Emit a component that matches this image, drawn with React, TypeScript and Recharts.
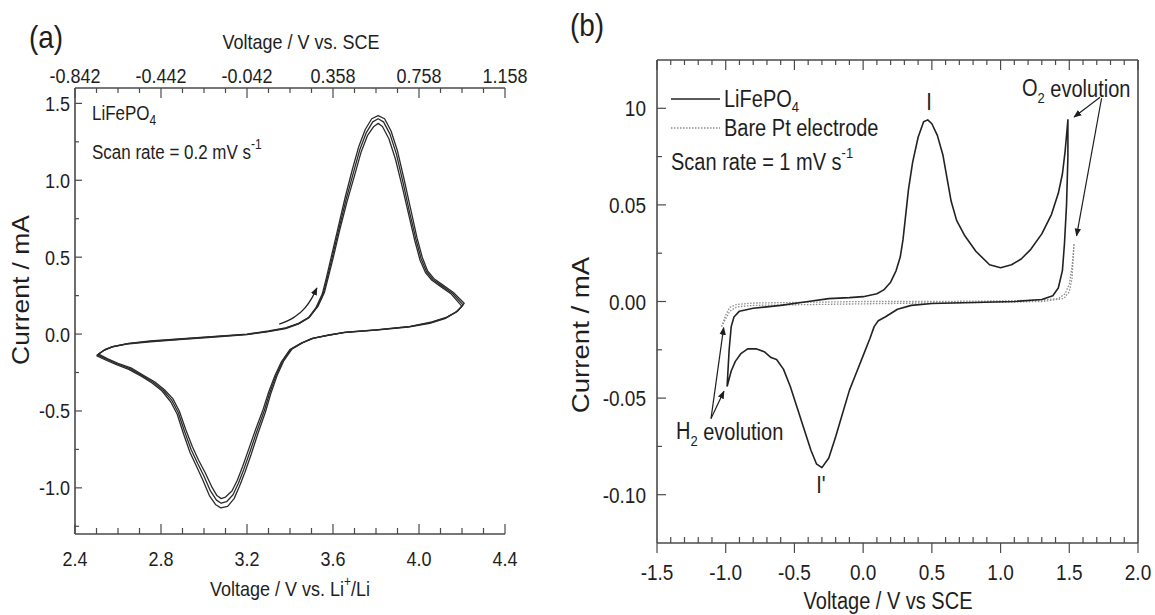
import React from 'react'
import { LineChart, Line, XAxis, YAxis, ReferenceLine } from 'recharts'

const FONT = '"Liberation Sans", Arial, Helvetica, sans-serif'
const INK = '#1e1e1e'
const AXIS = '#4a4a4a'
const SY = 1.15

type Pt = [number, number]

// ---- panel (a): LiFePO4, 0.2 mV/s, three cycles (V vs Li+/Li, mA)
const cycle1: Pt[] = [
  [2.51, -0.13], [2.54, -0.1], [2.58, -0.08], [2.65, -0.06], [2.75, -0.045], [2.9, -0.03], [3.05, -0.015],
  [3.2, 0.0], [3.3, 0.02], [3.38, 0.04], [3.44, 0.07], [3.49, 0.11], [3.53, 0.18], [3.56, 0.27], [3.58, 0.38],
  [3.6, 0.49], [3.63, 0.67], [3.665, 0.86], [3.7, 1.03], [3.73, 1.18], [3.76, 1.29], [3.79, 1.35], [3.81, 1.37],
  [3.83, 1.35], [3.86, 1.27], [3.89, 1.14], [3.92, 0.97], [3.95, 0.79], [3.98, 0.61], [4.005, 0.48], [4.03, 0.4],
  [4.06, 0.35], [4.1, 0.31], [4.15, 0.26], [4.2, 0.18],
  [4.17, 0.14], [4.12, 0.1], [4.05, 0.07], [3.95, 0.045], [3.8, 0.025], [3.65, 0.01], [3.57, -0.01], [3.5, -0.03],
  [3.45, -0.06], [3.4, -0.1], [3.36, -0.18], [3.33, -0.27], [3.3, -0.38], [3.275, -0.49], [3.24, -0.62],
  [3.21, -0.74], [3.18, -0.86], [3.155, -0.95], [3.13, -1.02], [3.1, -1.06], [3.08, -1.07], [3.06, -1.05],
  [3.035, -0.99], [3.005, -0.9], [2.975, -0.82], [2.945, -0.73], [2.915, -0.62], [2.885, -0.5], [2.855, -0.42],
  [2.815, -0.36], [2.77, -0.31], [2.72, -0.27], [2.66, -0.22], [2.6, -0.19], [2.55, -0.16], [2.51, -0.13],
]
const cycle2: Pt[] = [
  [2.505, -0.135], [2.535, -0.105], [2.575, -0.082], [2.645, -0.062], [2.75, -0.047], [2.9, -0.032], [3.05, -0.017],
  [3.2, -0.002], [3.3, 0.018], [3.38, 0.038], [3.44, 0.068], [3.49, 0.108], [3.525, 0.175], [3.555, 0.265],
  [3.575, 0.375], [3.595, 0.49], [3.625, 0.67], [3.66, 0.87], [3.695, 1.05], [3.725, 1.2], [3.755, 1.31],
  [3.785, 1.38], [3.81, 1.4], [3.835, 1.38], [3.865, 1.3], [3.895, 1.17], [3.925, 0.99], [3.955, 0.8],
  [3.985, 0.62], [4.01, 0.49], [4.035, 0.405], [4.065, 0.355], [4.105, 0.315], [4.155, 0.265], [4.205, 0.19],
  [4.175, 0.145], [4.125, 0.105], [4.055, 0.075], [3.955, 0.048], [3.805, 0.027], [3.655, 0.011], [3.575, -0.008],
  [3.505, -0.028], [3.455, -0.058], [3.405, -0.098], [3.365, -0.178], [3.335, -0.27], [3.305, -0.385], [3.28, -0.5],
  [3.245, -0.635], [3.215, -0.76], [3.185, -0.88], [3.16, -0.97], [3.135, -1.045], [3.105, -1.09], [3.08, -1.1],
  [3.058, -1.08], [3.03, -1.02], [3.0, -0.925], [2.97, -0.84], [2.94, -0.75], [2.91, -0.635], [2.88, -0.51],
  [2.85, -0.43], [2.81, -0.365], [2.765, -0.315], [2.715, -0.272], [2.655, -0.225], [2.595, -0.193],
  [2.545, -0.163], [2.505, -0.135],
]
const cycle3: Pt[] = [
  [2.5, -0.14], [2.53, -0.11], [2.57, -0.085], [2.64, -0.065], [2.75, -0.05], [2.9, -0.034], [3.05, -0.019],
  [3.2, -0.004], [3.3, 0.016], [3.38, 0.036], [3.44, 0.066], [3.485, 0.105], [3.52, 0.17], [3.55, 0.26],
  [3.57, 0.37], [3.59, 0.49], [3.62, 0.67], [3.655, 0.88], [3.69, 1.07], [3.72, 1.22], [3.75, 1.33], [3.78, 1.4],
  [3.81, 1.42], [3.84, 1.4], [3.87, 1.32], [3.9, 1.19], [3.93, 1.01], [3.96, 0.82], [3.99, 0.63], [4.015, 0.5],
  [4.04, 0.41], [4.07, 0.36], [4.11, 0.32], [4.16, 0.27], [4.21, 0.2],
  [4.18, 0.15], [4.13, 0.11], [4.06, 0.08], [3.96, 0.05], [3.81, 0.029], [3.66, 0.012], [3.58, -0.006],
  [3.51, -0.026], [3.46, -0.056], [3.41, -0.096], [3.37, -0.176], [3.34, -0.27], [3.31, -0.39], [3.285, -0.51],
  [3.25, -0.65], [3.22, -0.78], [3.19, -0.9], [3.165, -0.99], [3.14, -1.07], [3.11, -1.12], [3.078, -1.13],
  [3.055, -1.11], [3.025, -1.05], [2.995, -0.95], [2.965, -0.86], [2.935, -0.77], [2.905, -0.65], [2.875, -0.52],
  [2.845, -0.44], [2.805, -0.37], [2.76, -0.32], [2.71, -0.275], [2.65, -0.23], [2.59, -0.197], [2.54, -0.167],
  [2.5, -0.14],
]
const scanArrowA: Pt[] = [[3.35, 0.065], [3.42, 0.11], [3.47, 0.17], [3.5, 0.23], [3.525, 0.3]]

const xMajorA = [2.4, 2.8, 3.2, 3.6, 4.0, 4.4]
const topMajorA = [-0.842, -0.442, -0.042, 0.358, 0.758, 1.158]
const yMajorA = [-1.0, -0.5, 0.0, 0.5, 1.0, 1.5]

// ---- panel (b): 1 mV/s, V vs SCE, mA
const lfpB: Pt[] = [
  [-0.99, -0.044], [-0.975, -0.025], [-0.96, -0.013], [-0.94, -0.008], [-0.9, -0.005], [-0.8, -0.0035],
  [-0.6, -0.002], [-0.4, 0.0], [-0.25, 0.0015], [-0.1, 0.002], [0.0, 0.0025], [0.1, 0.004], [0.15, 0.006],
  [0.2, 0.01], [0.24, 0.016], [0.27, 0.023], [0.29, 0.032], [0.31, 0.045], [0.33, 0.058], [0.36, 0.072],
  [0.4, 0.085], [0.44, 0.093], [0.47, 0.094], [0.5, 0.092], [0.54, 0.086], [0.58, 0.076], [0.61, 0.064],
  [0.64, 0.052], [0.68, 0.042], [0.74, 0.034], [0.82, 0.026], [0.92, 0.019], [1.0, 0.0175], [1.08, 0.019],
  [1.15, 0.022], [1.22, 0.027], [1.3, 0.035], [1.37, 0.045], [1.42, 0.056], [1.45, 0.066], [1.47, 0.078],
  [1.49, 0.094],
  [1.49, 0.075], [1.48, 0.05], [1.465, 0.03], [1.45, 0.016], [1.42, 0.007], [1.38, 0.003], [1.3, 0.001],
  [1.1, 0.0], [0.8, -0.0005], [0.5, -0.001], [0.35, -0.002], [0.25, -0.004], [0.16, -0.008], [0.11, -0.01],
  [0.08, -0.013], [0.05, -0.019], [0.0, -0.028], [-0.05, -0.037], [-0.1, -0.046], [-0.15, -0.058],
  [-0.2, -0.07], [-0.25, -0.081], [-0.3, -0.086], [-0.34, -0.084], [-0.38, -0.077], [-0.43, -0.066],
  [-0.48, -0.055], [-0.53, -0.044], [-0.58, -0.035], [-0.63, -0.03], [-0.67, -0.029], [-0.72, -0.026],
  [-0.78, -0.0245], [-0.84, -0.0245], [-0.89, -0.027], [-0.93, -0.031], [-0.96, -0.036], [-0.99, -0.044],
]
const ptB: Pt[] = [
  [-1.03, -0.013], [-1.0, -0.007], [-0.97, -0.003], [-0.92, -0.0015], [-0.8, -0.0008], [-0.4, -0.0004],
  [0.0, 0.0], [0.5, 0.0], [1.0, 0.0003], [1.3, 0.0008], [1.42, 0.0015], [1.47, 0.004], [1.5, 0.009],
  [1.52, 0.018], [1.535, 0.03],
  [1.52, 0.012], [1.5, 0.005], [1.46, 0.0015], [1.3, 0.0], [1.0, -0.0004], [0.5, -0.0008], [0.0, -0.0012],
  [-0.4, -0.0016], [-0.8, -0.002], [-0.92, -0.0028], [-0.97, -0.005], [-1.0, -0.009], [-1.03, -0.013],
]
const h2ArrowUp: Pt[] = [[-1.107, -0.0606], [-1.015, -0.0135]]
const h2ArrowDown: Pt[] = [[-1.107, -0.0606], [-1.013, -0.0465]]
const o2ArrowVertex: Pt[] = [[1.724, 0.1057], [1.535, 0.0955]]
const o2ArrowPt: Pt[] = [[1.735, 0.1052], [1.553, 0.034]]

const xMajorB = [-1.5, -1.0, -0.5, 0.0, 0.5, 1.0, 1.5, 2.0]
const yMajorB = [-0.1, -0.05, 0.0, 0.05, 0.1]
const yLabelsB = ['-0.10', '-0.05', '0.00', '0.05', '10']

const rows = (pts: Pt[]) => pts.map(([v, i]) => ({ v, i }))
const range = (a: number, b: number, s: number) =>
  Array.from({ length: Math.round((b - a) / s) + 1 }, (_, k) => +(a + k * s).toFixed(4))

function T({ x, y, size, anchor = 'start', rotate = 0, children }: any) {
  return (
    <text
      transform={`translate(${x} ${y}) scale(1 ${SY}) rotate(${rotate})`}
      fontSize={size}
      textAnchor={anchor}
      dominantBaseline="central"
      fill={INK}
      fontFamily={FONT}
    >
      {children}
    </text>
  )
}

type TickSpec = {
  side: 'bottom' | 'top' | 'left'
  majors: number[]
  majorIn: number
  majorOut: number
  minorIn: number
  gap: number
  size: number
  label?: (v: number, k: number) => string
}

function makeTick(spec: TickSpec) {
  return (props: any) => {
    const { x, y, payload } = props
    const v = payload.value
    const k = spec.majors.findIndex((m) => Math.abs(m - v) < 1e-6)
    const major = k >= 0
    const inn = major ? spec.majorIn : spec.minorIn
    const out = major ? spec.majorOut : 0
    let ln = null
    let txt = null
    const lbl = major && spec.label ? spec.label(v, k) : null
    if (spec.side === 'bottom') {
      ln = <line x1={x} x2={x} y1={y + out} y2={y - inn} stroke={AXIS} strokeWidth={1.2} />
      if (lbl) txt = <T x={x} y={y + spec.gap} size={spec.size} anchor="middle">{lbl}</T>
    } else if (spec.side === 'top') {
      ln = <line x1={x} x2={x} y1={y - out} y2={y + inn} stroke={AXIS} strokeWidth={1.2} />
      if (lbl) txt = <T x={x} y={y - spec.gap} size={spec.size} anchor="middle">{lbl}</T>
    } else {
      ln = <line x1={x - out} x2={x + inn} y1={y} y2={y} stroke={AXIS} strokeWidth={1.2} />
      if (lbl) txt = <T x={x - spec.gap} y={y} size={spec.size} anchor="end">{lbl}</T>
    }
    return (
      <g>
        {ln}
        {txt}
      </g>
    )
  }
}

// axis bands are 1px thick (a 0px axis is not drawn at all)
const axisCommon = {
  type: 'number' as const,
  allowDataOverflow: true,
  interval: 0 as const,
  tickSize: 0,
  tickMargin: 0,
  tickLine: false,
  axisLine: { stroke: AXIS, strokeWidth: 1.6 },
}

function Head({ id }: { id: string }) {
  return (
    <marker id={id} viewBox="0 0 10 10" refX="9" refY="5" markerWidth="8" markerHeight="8" orient="auto" markerUnits="userSpaceOnUse">
      <path d="M0,1 L10,5 L0,9 z" fill={INK} />
    </marker>
  )
}

function PanelA() {
  return (
    <LineChart width={560} height={615} margin={{ top: 87, right: 55, bottom: 80, left: 74 }}>
      <defs>
        <Head id="headA" />
      </defs>
      <XAxis
        {...axisCommon}
        xAxisId="bottom"
        dataKey="v"
        domain={[2.4, 4.4]}
        ticks={range(2.4, 4.4, 0.1)}
        height={1}
        tick={makeTick({ side: 'bottom', majors: xMajorA, majorIn: 10, majorOut: 0, minorIn: 6, gap: 25, size: 18, label: (v) => v.toFixed(1) })}
      />
      <XAxis
        {...axisCommon}
        xAxisId="top"
        orientation="top"
        dataKey="v"
        domain={[-0.842, 1.158]}
        ticks={range(-0.842, 1.158, 0.1)}
        height={1}
        tick={makeTick({ side: 'top', majors: topMajorA, majorIn: 10, majorOut: 0, minorIn: 5, gap: 12, size: 18, label: (v) => v.toFixed(3) })}
      />
      <YAxis
        {...axisCommon}
        dataKey="i"
        domain={[-1.3, 1.6]}
        ticks={range(-1.25, 1.5, 0.25)}
        width={1}
        tick={makeTick({ side: 'left', majors: yMajorA, majorIn: 7, majorOut: 0, minorIn: 4, gap: 5, size: 18, label: (v) => v.toFixed(1) })}
      />
      <Line xAxisId="top" data={rows([[-0.842, 0], [1.158, 0]])} dataKey="i" stroke="none" dot={false} isAnimationActive={false} />
      {[cycle1, cycle2, cycle3].map((c, k) => (
        <Line
          key={k}
          xAxisId="bottom"
          data={rows(c)}
          dataKey="i"
          type="linear"
          stroke="#2b2b2b"
          strokeWidth={1.3}
          strokeLinejoin="round"
          dot={false}
          isAnimationActive={false}
        />
      ))}
      <Line
        xAxisId="bottom"
        data={rows(scanArrowA)}
        dataKey="i"
        type="monotone"
        stroke={INK}
        strokeWidth={1.3}
        dot={false}
        markerEnd="url(#headA)"
        isAnimationActive={false}
      />
    </LineChart>
  )
}

function PanelB() {
  const arrows = [h2ArrowUp, h2ArrowDown, o2ArrowVertex, o2ArrowPt]
  return (
    <LineChart width={595} height={615} margin={{ top: 59, right: 17, bottom: 71, left: 96 }}>
      <defs>
        <Head id="headB" />
      </defs>
      <XAxis
        {...axisCommon}
        xAxisId="bottom"
        dataKey="v"
        domain={[-1.5, 2.0]}
        ticks={range(-1.5, 2.0, 0.1)}
        height={1}
        tick={makeTick({ side: 'bottom', majors: xMajorB, majorIn: 0, majorOut: 10, minorIn: 6, gap: 29, size: 19, label: (v) => v.toFixed(1) })}
      />
      <XAxis
        {...axisCommon}
        xAxisId="top"
        orientation="top"
        dataKey="v"
        domain={[-1.5, 2.0]}
        ticks={range(-1.5, 2.0, 0.1)}
        height={1}
        tick={makeTick({ side: 'top', majors: xMajorB, majorIn: 10, majorOut: 0, minorIn: 5, gap: 0, size: 19 })}
      />
      <YAxis
        {...axisCommon}
        dataKey="i"
        domain={[-0.125, 0.125]}
        ticks={range(-0.1, 0.1, 0.025)}
        width={1}
        tick={makeTick({ side: 'left', majors: yMajorB, majorIn: 9, majorOut: 0, minorIn: 5, gap: 11, size: 19, label: (_v, k) => yLabelsB[k] })}
      />
      <ReferenceLine xAxisId="bottom" x={2.0} stroke={AXIS} strokeWidth={1.6} />
      <Line xAxisId="top" data={rows([[-1.5, 0], [2.0, 0]])} dataKey="i" stroke="none" dot={false} isAnimationActive={false} />
      <Line
        xAxisId="bottom"
        data={rows(ptB)}
        dataKey="i"
        type="linear"
        stroke="#8c8c8c"
        strokeWidth={1.3}
        strokeDasharray="1.5 1.5"
        dot={false}
        isAnimationActive={false}
      />
      <Line
        xAxisId="bottom"
        data={rows(lfpB)}
        dataKey="i"
        type="linear"
        stroke="#222"
        strokeWidth={1.6}
        strokeLinejoin="round"
        dot={false}
        isAnimationActive={false}
      />
      {arrows.map((a, k) => (
        <Line
          key={k}
          xAxisId="bottom"
          data={rows(a)}
          dataKey="i"
          type="linear"
          stroke={INK}
          strokeWidth={1.2}
          dot={false}
          markerEnd="url(#headB)"
          isAnimationActive={false}
        />
      ))}
    </LineChart>
  )
}

function Overlay() {
  return (
    <svg width={1155} height={615} style={{ position: 'absolute', left: 0, top: 0, pointerEvents: 'none' }}>
      {/* panel (a) */}
      <T x={46} y={37} size={28} anchor="middle">(a)</T>
      <T x={301} y={42} size={18} anchor="middle">Voltage / V vs. SCE</T>
      <T x={92} y={113} size={17}>
        LiFePO<tspan dy={6} fontSize={12}>4</tspan>
      </T>
      <T x={92} y={152} size={17}>
        Scan rate = 0.2 mV s<tspan dy={-7} fontSize={12}>-1</tspan>
      </T>
      <T x={21} y={290} size={23} anchor="middle" rotate={-90}>Current / mA</T>
      <T x={290} y={589} size={18} anchor="middle">
        Voltage / V vs. Li<tspan dy={-7} fontSize={12}>+</tspan>
        <tspan dy={7}>/Li</tspan>
      </T>

      {/* panel (b) */}
      <T x={587} y={25} size={28} anchor="middle">(b)</T>
      <line x1={671} x2={720} y1={99} y2={99} stroke="#222" strokeWidth={1.6} />
      <T x={724} y={99} size={20}>
        LiFePO<tspan dy={7} fontSize={13}>4</tspan>
      </T>
      <line x1={671} x2={720} y1={128} y2={128} stroke="#8c8c8c" strokeWidth={1.3} strokeDasharray="1.5 1.5" />
      <T x={724} y={128} size={20}>Bare Pt electrode</T>
      <T x={671} y={162} size={20}>
        Scan rate = 1 mV s<tspan dy={-8} fontSize={13}>-1</tspan>
      </T>
      <T x={929} y={102} size={20} anchor="middle">I</T>
      <T x={821} y={485} size={20} anchor="middle">I'</T>
      <T x={1022} y={88} size={20}>
        O<tspan dy={8} fontSize={13}>2</tspan>
        <tspan dy={-8}> evolution</tspan>
      </T>
      <T x={676} y={431} size={20}>
        H<tspan dy={8} fontSize={13}>2</tspan>
        <tspan dy={-8}> evolution</tspan>
      </T>
      <T x={581} y={335} size={24} anchor="middle" rotate={-90}>Current / mA</T>
      <T x={888} y={601} size={20} anchor="middle">Voltage / V vs SCE</T>
    </svg>
  )
}

export default function App() {
  return (
    <div style={{ position: 'fixed', left: 0, top: 0, width: 1155, height: 615, background: '#fff', fontFamily: FONT }}>
      <div style={{ position: 'absolute', left: 0, top: 0 }}>
        <PanelA />
      </div>
      <div style={{ position: 'absolute', left: 560, top: 0 }}>
        <PanelB />
      </div>
      <Overlay />
    </div>
  )
}
